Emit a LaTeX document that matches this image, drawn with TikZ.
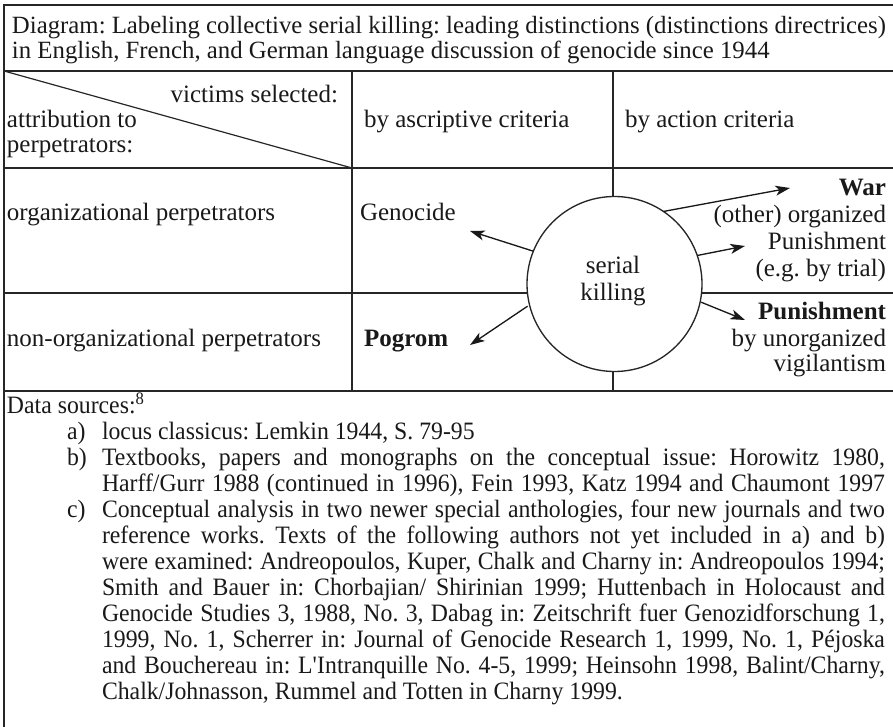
\documentclass[tikz,border=0pt]{standalone}
\usepackage{fontspec}
\setmainfont{Liberation Serif}
\newfontfamily\lowfont[FakeStretch=0.95]{Liberation Serif}
\usetikzlibrary{arrows.meta}
\frenchspacing
\newcommand{\jl}[2]{{\spaceskip=0.25em plus 0.6em minus 0.12em\relax\makebox[#1][s]{#2}}}
\begin{document}
\begin{tikzpicture}[x=0.75pt,y=-0.75pt,
  every node/.style={inner sep=0pt, outer sep=0pt, font=\fontsize{18.75pt}{18.75pt}\selectfont, text=black!90},
  small/.style={font=\lowfont\fontsize{18.75pt}{18.75pt}\selectfont},
  rule/.style={line width=1.1pt, draw=black!85},
  arr/.style={line width=1pt, draw=black!90, -{Stealth[length=11pt,width=7.5pt,inset=3pt]}},
  txtL/.style={anchor=base west},
  txtR/.style={anchor=base east},
  txtC/.style={anchor=base},
  lowL/.style={anchor=base west, small}]
\useasboundingbox (0,0) rectangle (893,727);
% table rules
\draw[rule] (4,727) -- (4,5) -- (893,5);
\draw[rule] (4,71) -- (893,71);
\draw[rule] (4,168) -- (893,168);
\draw[rule] (4,293) -- (893,293);
\draw[rule] (4,391) -- (893,391);
\draw[rule] (352,71) -- (352,391);
\draw[rule] (613,71) -- (613,391);
\draw[line width=0.9pt, draw=black!85] (4,71) -- (352,168);
% header
\node[txtL, font=\fontsize{18.6pt}{18.6pt}\selectfont] (t1) at (12,34) {\jl{655.5pt}{Diagram: Labeling collective serial killing: leading distinctions (distinctions directrices)}};
\node[txtL, font=\fontsize{18.6pt}{18.6pt}\selectfont] (t2) at (12,59) {in English, French, and German language discussion of genocide since 1944};
\node[txtR] (vs) at (338,103) {victims selected:};
\node[txtL] (at) at (7,128) {attribution to};
\node[txtL] (pp) at (7,153) {perpetrators:};
\node[txtL] (asc) at (364,128) {by ascriptive criteria};
\node[txtL] (act) at (625,128) {by action criteria};
\node[txtL] (org) at (7,221) {organizational perpetrators};
\node[txtL] (gen) at (360,221) {Genocide};
\node[txtL] (non) at (7,347) {non-organizational perpetrators};
\node[txtL] (pog) at (364,347) {\textbf{Pogrom}};
% right column
\node[txtR] (war) at (886,196) {\textbf{War}};
\node[txtR] (oth) at (886,223) {(other) organized};
\node[txtR] (pun) at (886,250) {Punishment};
\node[txtR] (trl) at (886,277) {(e.g. by trial)};
\node[txtR] (pnb) at (886,320) {\textbf{Punishment}};
\node[txtR] (uno) at (886,347) {by unorganized};
\node[txtR] (vig) at (886,372) {vigilantism};
% circle
\node[circle, draw=black!85, line width=1pt, fill=white, minimum size=131.25pt] (sk) at (614.5,284) {};
\node[txtC] (s1) at (613,274) {serial};
\node[txtC] (s2) at (613,301) {killing};
% arrows
\coordinate (gE) at (470,231);
\coordinate (pE) at (470,345);
\coordinate (wE) at (790,188);
\coordinate (oE) at (745,246);
\coordinate (bE) at (745,320);
\draw[arr] (sk.158.8) -- (gE);
\draw[arr] ([shift={(-2,1)}]sk.194.6) -- (pE);
\draw[arr] (sk.56.8) -- (wE);
\draw[arr] (sk.19.8) -- (oE);
\draw[arr] ([shift={(1,0)}]sk.-12.9) -- (bE);
% data sources
\node[lowL] (ds) at (7,413) {Data sources:\textsuperscript{8}};
\node[lowL] (la) at (67,439) {a)};
\node[lowL] (lb) at (67,465) {b)};
\node[lowL] (lc) at (67,517) {c)};
\node[lowL] (a1) at (102,439) {locus classicus: Lemkin 1944, S. 79-95};
\node[lowL] (b1) at (102,465) {\jl{587.25pt}{Textbooks, papers and monographs on the conceptual issue: Horowitz 1980,}};
\node[lowL] (b2) at (102,491) {\jl{587.25pt}{Harff/Gurr 1988 (continued in 1996), Fein 1993, Katz 1994 and Chaumont 1997}};
\node[lowL] (c1) at (102,517) {\jl{587.25pt}{Conceptual analysis in two newer special anthologies, four new journals and two}};
\node[lowL] (c2) at (102,543) {\jl{587.25pt}{reference works. Texts of the following authors not yet included in a) and b)}};
\node[lowL] (c3) at (102,569) {\jl{587.25pt}{were examined: Andreopoulos, Kuper, Chalk and Charny in: Andreopoulos 1994;}};
\node[lowL] (c4) at (102,595) {\jl{587.25pt}{Smith and Bauer in: Chorbajian/ Shirinian 1999; Huttenbach in Holocaust and}};
\node[lowL] (c5) at (102,621) {\jl{587.25pt}{Genocide Studies 3, 1988, No. 3, Dabag in: Zeitschrift fuer Genozidforschung 1,}};
\node[lowL] (c6) at (102,647) {\jl{587.25pt}{1999, No. 1, Scherrer in: Journal of Genocide Research 1, 1999, No. 1, Péjoska}};
\node[lowL] (c7) at (102,673) {\jl{587.25pt}{and Bouchereau in: L\textquotesingle Intranquille No. 4-5, 1999; Heinsohn 1998, Balint/Charny,}};
\node[lowL] (c8) at (102,699) {Chalk/Johnasson, Rummel and Totten in Charny 1999.};
\end{tikzpicture}
\end{document}
